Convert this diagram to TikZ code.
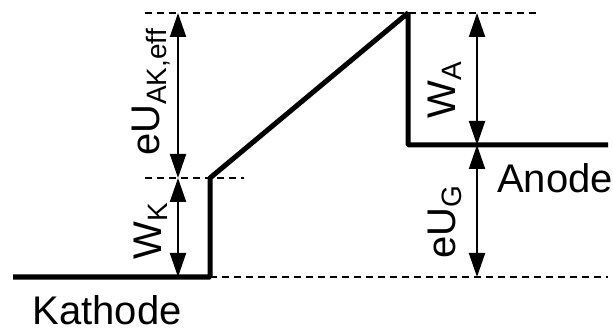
\documentclass[tikz,border=0pt]{standalone}
\usepackage{fontspec}
\setmainfont{Liberation Sans}
\usetikzlibrary{arrows.meta, positioning}

\tikzset{
  level/.style={line width=2.5pt, line join=bevel},
  guide/.style={line width=1pt, dash pattern=on 3.5pt off 2.5pt},
  dim/.style={line width=1pt, {Triangle[length=12pt,width=8pt]}-{Triangle[length=12pt,width=8pt]}},
  lbl/.style={font=\fontsize{20}{24}\selectfont, inner sep=0pt}
}

\begin{document}
\begin{tikzpicture}[x=0.5pt, y=-0.5pt]
            \useasboundingbox (0,0) rectangle (613,330);

            % Niveaus
            \coordinate (k0) at (13,277);
            \coordinate (k1) at (210,277);
            \coordinate (k2) at (210,178);
            \coordinate (a0) at (408,13);
            \coordinate (a1) at (408,145);
            \coordinate (a2) at (608,145);

            % Hilfslinien
            \coordinate (top0) at (145,13);
            \coordinate (top1) at (540,13);
            \coordinate (mid0) at (145,178);
            \coordinate (mid1) at (244,178);
            \coordinate (bot1) at (608,277);

            % Messpunkte
            \coordinate (l0) at (178,13);
            \coordinate (l1) at (178,178);
            \coordinate (l2) at (178,277);
            \coordinate (r0) at (477,13);
            \coordinate (r1) at (477,145);
            \coordinate (r2) at (477,277);

            \draw[guide] (top0) -- (top1);
            \draw[guide] (mid0) -- (mid1);
            \draw[guide] (k1) -- (bot1);

            \draw[level] (k0) -- (k1) -- (k2) -- (a0) -- (a1) -- (a2);

            \draw[dim] (l0) -- (l1);
            \draw[dim] (l1) -- (l2);
            \draw[dim] (r0) -- (r1);
            \draw[dim] (r1) -- (r2);

            \node[lbl, rotate=90] (euak) at (151,92) {eU\textsubscript{AK,eff}};
            \node[lbl, rotate=90] (wk) at (151,231) {W\textsubscript{K}};
            \node[lbl, rotate=90] (wa) at (445,90) {W\textsubscript{A}};
            \node[lbl, rotate=90] (eug) at (445,222) {eU\textsubscript{G}};

            \node[lbl] (kathode) at (107,310) {Kathode};
            \node[lbl] (anode) at (555,178) {Anode};
        \end{tikzpicture}
\end{document}
